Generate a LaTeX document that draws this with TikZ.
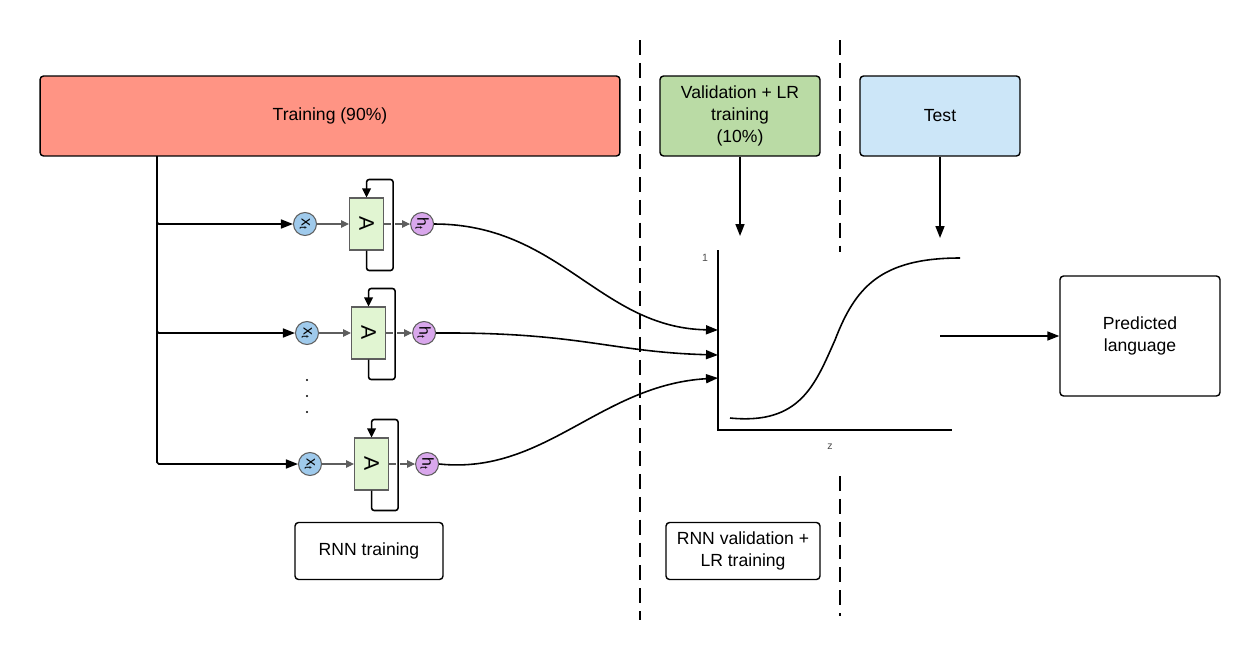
\documentclass[tikz,border=0pt]{standalone}
\usepackage{fontspec}
\setmainfont{Liberation Sans}
\usepackage{graphicx}
\usetikzlibrary{arrows.meta,positioning}
\definecolor{trainred}{HTML}{FF9484}
\definecolor{valgreen}{HTML}{BADBA5}
\definecolor{testblue}{HTML}{CCE6F8}
\definecolor{inblue}{HTML}{9FCAEC}
\definecolor{outviolet}{HTML}{D9A7EC}
\definecolor{cellgreen}{HTML}{E1F5D2}
\definecolor{linegray}{HTML}{5E5E5E}

\begin{document}
\begin{tikzpicture}[
  x=0.02cm, y=-0.02cm,
  font=\fontsize{10}{12.5}\selectfont,
  flow/.style={-{Triangle[length=2.4mm,width=1.8mm]}, line width=0.9pt},
  small flow/.style={-{Triangle[length=1.6mm,width=1.5mm]}, line width=0.6pt, draw=linegray},
  loopback/.style={-{Triangle[length=1.8mm,width=1.7mm]}, line width=0.9pt, rounded corners=1.5pt},
  split/.style={line width=1.1pt, dash pattern=on 8.5pt off 4.5pt},
  box/.style={draw, rounded corners=2pt, line width=0.8pt, align=center, inner sep=0pt},
  phase/.style={box, minimum width=3.2cm, minimum height=1.6cm},
  caption/.style={box, fill=white, minimum height=1.14cm},
  xin/.style={circle, draw=linegray, fill=inblue, minimum size=4.6mm, inner sep=0pt,
              line width=0.6pt, font=\fontsize{9}{9}\selectfont},
  hout/.style={xin, fill=outviolet},
  cell/.style={draw=linegray, fill=cellgreen, minimum width=6.8mm, minimum height=10.4mm,
               inner sep=0pt, line width=0.6pt, font=\fontsize{12}{12}\selectfont},
  tick/.style={font=\fontsize{6}{6}\selectfont, text=black!70}
]
\useasboundingbox (0,0) rectangle (1260,660);

% Data split
\node[phase, fill=trainred, minimum width=11.6cm] (train) at (330,116) {Training (90\%)};
\node[phase, fill=valgreen] (val) at (740,116) {Validation + LR\\training\\(10\%)};
\node[phase, fill=testblue] (test) at (940,116) {Test};

\draw[split] (640,40) -- (640,620);
\draw[split] (840,40) -- (840,252);
\draw[split] (840,476) -- (840,616);

% Unrolled RNN copies
\foreach \i/\yy/\xx in {1/224/305, 2/333/307, 3/464/310} {
  \node[xin] (x\i) at (\xx,\yy) {\rotatebox{-90}{x\textsubscript{t}}};
  \node[cell, right=6.4mm of x\i] (A\i) {\rotatebox{-90}{A}};
  \node[hout, right=5.2mm of A\i] (h\i) {\rotatebox{-90}{h\textsubscript{t}}};
  \draw[small flow] (x\i) -- (A\i);
  \draw[small flow] (A\i) -- (h\i);
  \draw[white, line width=2.5pt] ([xshift=1.8mm, yshift=-0.8mm]A\i.east) -- ++(0,1.6mm);
  \draw[loopback] (A\i.south) -- ++(0,-4mm) -| ([xshift=1.8mm]A\i.east)
    |- ([yshift=3.6mm]A\i.north) -- (A\i.north);
}
\foreach \d in {380,396,412}
  \fill (307,\d) circle (0.6pt);

% Training data feeds every copy
\coordinate (tap) at (157,156);
\foreach \i in {1,2,3}
  \draw[flow, rounded corners=1pt] (tap) |- (x\i);

% Logistic regression plot
\coordinate (yaxtop) at (718,250);
\coordinate (origin) at (718,430);
\coordinate (xaxend) at (952,430);
\coordinate (in1) at (718,330);
\coordinate (in2) at (718,355);
\coordinate (in3) at (718,378);
\draw[line width=1.1pt] (yaxtop) -- (origin) -- (xaxend);
\node[tick] (one) at (705,258) {1};
\node[tick] (zlab) at (830,447) {z};
\draw[line width=0.9pt] (730,418) .. controls (800,425) and (815,385) .. (835,340)
  .. controls (855,288) and (880,258) .. (960,258);

\draw[flow] (h1.east) .. controls (560,224) and (600,328) .. (in1);
\draw[flow] (h2.east) .. controls (580,332) and (610,352) .. (in2);
\draw[flow] (h3.east) .. controls (545,475) and (600,385) .. (in3);

\coordinate (valtip) at (740,236);
\coordinate (testtip) at (940,238);
\draw[flow] (val.south) -- (valtip);
\draw[flow] (test.south) -- (testtip);

% Output
\node[box, minimum width=3.2cm, minimum height=2.4cm] (pred) at (1140,336) {Predicted\\language};
\coordinate (sigout) at (940,336);
\draw[flow] (sigout) -- (pred.west);

% Stage captions
\node[caption, minimum width=2.96cm] (rnncap) at (369,551) {RNN training};
\node[caption, minimum width=3.08cm] (lrcap) at (743,551) {RNN validation +\\LR training};

\end{tikzpicture}
\end{document}
